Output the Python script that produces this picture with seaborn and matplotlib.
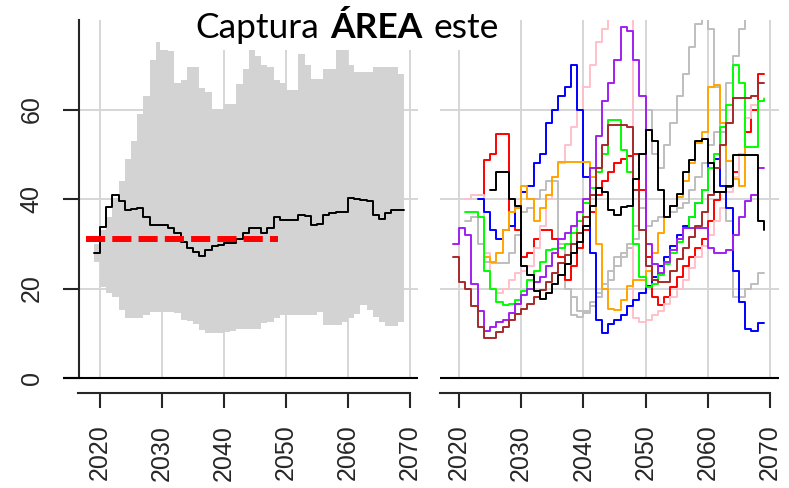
import numpy as np
import pandas as pd
import matplotlib
matplotlib.use("Agg")
import matplotlib.pyplot as plt
import seaborn as sns
from matplotlib.patches import Rectangle
from matplotlib.offsetbox import TextArea, HPacker, AnchoredOffsetbox

# ---------------- data ----------------
band_years = list(range(2019, 2070))
band_low = [26, 20.4, 18.9, 18, 15.2, 13.3, 13.3, 13.3, 14, 14.8,
            14.8, 14.8, 14.8, 14.5, 13, 12.8, 12, 10.8, 10.1, 10.1,
            10.1, 10.2, 10.5, 10.9, 11, 11, 11, 12.2, 12.6, 13.5,
            14, 14, 14, 14, 14, 14, 14.8, 11.8, 11.8, 11.8,
            12.5, 13.5, 14.4, 16.3, 15.2, 13.7, 12.6, 11.6, 11.7, 12.6,
            12.6]
band_high = [30, 33, 36, 40, 44, 49, 53, 59, 63, 71,
             75, 77, 73, 66, 66.5, 69.5, 69.5, 64.7, 64, 60.2,
             60.2, 61.2, 61.2, 65.8, 69, 76, 72, 70, 69.5, 66.5,
             66, 64.3, 64.3, 72.5, 70, 66.9, 66.9, 69.1, 69.1, 76,
             76, 70, 68.4, 68.4, 68.4, 69.5, 69.5, 69.5, 69.5, 68,
             67.6]
median = [28, 33.8, 38.2, 41, 39.5, 37.6, 37.8, 38.1, 36, 34.2,
          34.2, 34.2, 33.5, 32.3, 30.5, 29, 28.2, 27.2, 28.5, 29.6,
          29.8, 30.2, 30.2, 31, 32.5, 33.6, 33.6, 32.4, 33.5, 35.9,
          35.4, 35.3, 35.4, 36.4, 36.2, 34.2, 34.5, 36.4, 36.8, 37,
          37.1, 40.3, 40, 39.8, 39.6, 36.5, 35.6, 36.8, 37.6, 37.5,
          37.5]
ref_level = 31
ref_start, ref_end = 2017.7, 2048.7

# right panel: first year + yearly values of each trajectory
gray1_start = 2021
gray1 = [35, 36, 30, 26, 25.6, 25.6, 25.6, 28, 32, 37,
         38, 40, 42, 44, 44, 30, 20, 14, 13.7, 15,
         17, 19, 21, 24, 27, 28, 30, 34, 38, 60,
         50, 47, 52, 57, 63, 68, 74, 79, 85, 78,
         65, 55, 35, 18, 18, 20, 21, 23.4, 23.4]
gray2_start = 2038
gray2 = [18, 15, 14.5, 16, 18, 20, 22, 25, 27, 29,
         31, 33, 34, 35, 36, 36, 37, 38, 39, 42,
         45, 48, 52, 55, 60, 66, 72, 78, 85]
red_start = 2023
red = [41, 48.7, 50, 54.5, 54.5, 34, 33, 27, 28, 31,
       33, 33, 31, 27, 22, 25, 29, 33, 37, 41,
       44, 46, 48, 49, 49.5, 50, 42, 27, 18, 16.3,
       18, 20.4, 22.5, 25, 27, 29, 31, 35, 39.7, 41.5,
       42.7, 46, 50, 55, 60, 68, 68]
pink_start = 2021
pink = [40, 41, 41, 28, 20, 19, 20, 22, 23.5, 24,
        25, 29, 34, 40, 45, 48, 52, 56, 60, 65,
        70, 75, 78, 85, 90, 90, 85, 13.5, 12.5, 13,
        14, 15, 16.5, 18, 20, 22, 24.5, 27, 29.5, 32,
        35, 38, 41.5, 45, 50, 58, 61, 62, 62.5]
blue_start = 2023
blue = [40, 37, 33, 31, 33, 34, 38, 41.5, 43, 48,
        50, 57, 60, 63, 65, 70, 60, 45, 28, 13,
        10, 12, 13, 14, 16, 17.5, 19, 20.5, 22.5, 25,
        27, 29.5, 32, 34, 36, 39, 42, 48, 49, 43,
        38, 24, 17, 11, 10.5, 12.2, 12.2]
orange_start = 2024
orange = [27, 26, 28, 33, 37, 38, 43, 40, 35, 38,
          41, 45, 48.3, 48.3, 48.3, 48.3, 48.3, 45, 30, 20,
          15.5, 15.2, 17.5, 20.5, 22, 22, 24, 28, 32.5, 36,
          38.5, 40.5, 44, 48, 52.5, 55, 65, 65.5, 57, 48.5,
          44.5, 43, 52]
green_start = 2021
green = [37, 37, 36, 24, 20, 17, 16.3, 16.5, 17.5, 19.5,
         22, 24, 26, 28.6, 28.8, 29, 30, 32.5, 35, 39,
         42.5, 46, 50, 57.6, 57.6, 51, 46, 30, 22.5, 20.4,
         21, 23, 25.5, 28, 30.5, 33.5, 36, 39, 42, 47,
         50, 56, 61, 70, 66, 51.6, 51.6, 62, 62.4]
purple_start = 2019
purple = [30, 33.5, 32, 21, 15, 10.5, 11.5, 12.5, 13, 14.5,
          16.5, 18.5, 20, 21.5, 22.6, 25, 28, 31, 32.3, 34,
          37, 40, 47, 54, 62, 66, 71, 78.5, 77.5, 71,
          63, 30, 25.5, 23.5, 26, 28.5, 31, 33.5, 33.5, 33.5,
          33.5, 29, 28, 28, 28.5, 32, 36, 39.5, 41, 47,
          47]
brown_start = 2019
brown = [27, 21.5, 20, 16, 11.5, 9, 9, 10.3, 11.5, 13,
         14.4, 15.5, 16.5, 18.2, 19.6, 21.5, 23.4, 25.6, 27.5, 30,
         32.5, 36, 41, 47, 52, 56.5, 56.5, 56.5, 56, 42,
         33, 25, 22, 21.5, 21.5, 24, 26.5, 29, 31.5, 34,
         37, 41, 47, 52, 57, 62.5, 62.5, 62.5, 63, 66,
         66]
black_start = 2025
black = [42, 46, 46, 40, 38.5, 25, 23, 19.5, 17.6, 19,
         21, 23, 25.5, 28, 30.5, 34, 38.5, 42.5, 41.5, 37.5,
         36.4, 38.2, 38.5, 44.5, 50, 55.4, 53, 42, 36, 38.5,
         41.2, 46, 48.7, 53, 53.5, 48, 41.6, 41.6, 43, 49.8,
         49.8, 49.8, 49.8, 35, 33]

series = {
    "gray1": (gray1_start, gray1),
    "gray2": (gray2_start, gray2),
    "red": (red_start, red),
    "pink": (pink_start, pink),
    "blue": (blue_start, blue),
    "orange": (orange_start, orange),
    "green": (green_start, green),
    "purple": (purple_start, purple),
    "brown": (brown_start, brown),
    "black": (black_start, black),
}
palette = {"gray1": "#bebebe", "gray2": "#bebebe", "red": "#ff0000",
           "pink": "#ffc0cb", "blue": "#0000ff", "orange": "#ffa500",
           "green": "#00ff00", "purple": "#a020f0", "brown": "#a52a2a",
           "black": "#000000"}

rows = []
for name, (start, vals) in series.items():
    for i, v in enumerate(vals):
        rows.append((name, start + i, v))
traj = pd.DataFrame(rows, columns=["serie", "year", "value"])

# ---------------- figure ----------------
sns.set_style("white")
plt.rcParams["font.family"] = ["Liberation Sans", "DejaVu Sans"]

W, H = 789, 488
fig = plt.figure(figsize=(W / 100, H / 100), dpi=100)

def px_axes(x0, x1, y0, y1):
    return fig.add_axes([x0 / W, 1 - y1 / H, (x1 - x0) / W, (y1 - y0) / H])

ax1 = px_axes(63, 418, 20, 393)
ax2 = px_axes(440, 779, 20, 393)

grid_c = "#d6d6d6"
xt = [2020, 2030, 2040, 2050, 2060, 2070]
yt = [0, 20, 40, 60]
ylim = (-3.35, 80)

ax1.set_xlim(2014.03, 2071.29)
ax2.set_xlim(2016.95, 2071.45)
y_axis_x = 2016.6

for ax in (ax1, ax2):
    ax.set_ylim(*ylim)
    ax.vlines(xt, 0, ylim[1], colors=grid_c, lw=1.4, zorder=0.5)
    ax.axhline(0, color="black", lw=1.5, zorder=4)
    for s in ("top", "right"):
        ax.spines[s].set_visible(False)
    ax.spines["bottom"].set_linewidth(1.5)
    ax.spines["bottom"].set_bounds(y_axis_x - 0.1 if ax is ax1 else ax.get_xlim()[0], 2070)
    ax.set_xticks(xt)
    ax.tick_params(axis="x", direction="out", length=10.8, width=1.5, pad=12,
                   labelsize=18, labelrotation=90, bottom=True)
    ax.set_xlabel("")
    ax.set_ylabel("")

ax1.hlines([20, 40, 60], y_axis_x, 2071.29, colors=grid_c, lw=1.4, zorder=0.5)
ax2.hlines([20, 40, 60], *ax2.get_xlim(), colors=grid_c, lw=1.4, zorder=0.5)

# left panel: band, median, reference level
ax1.fill_between(band_years, band_low, band_high, step="post",
                 color="#d3d3d3", lw=0, zorder=1)
sns.lineplot(x=band_years, y=median, ax=ax1, color="black", lw=1.4,
             drawstyle="steps-post", zorder=2)
ax1.hlines(ref_level, ref_start, ref_end, colors="red", lw=4.3,
           linestyles=(0, (3.2, 1.2)), zorder=3)

ax1.spines["left"].set_position(("data", y_axis_x))
ax1.spines["left"].set_bounds(0, 80)
ax1.spines["left"].set_linewidth(1.5)
ax1.set_yticks(yt)
ax1.tick_params(axis="y", direction="out", length=11.5, width=1.5, pad=14,
                labelsize=18, labelrotation=90, left=True)
for lab in ax1.get_yticklabels():
    lab.set_va("center")

# right panel: individual trajectories
sns.lineplot(data=traj, x="year", y="value", hue="serie",
             hue_order=list(series.keys()), palette=palette,
             estimator=None, drawstyle="steps-post", lw=1.4,
             legend=False, ax=ax2, zorder=2)
ax2.spines["left"].set_visible(False)
ax2.set_yticks(yt)
ax2.tick_params(axis="y", left=False, labelleft=False)
ax2.set_xlabel("")
ax2.set_ylabel("")

# title box on top
fig.add_artist(Rectangle((160 / W, 1 - 50 / H), (470 - 160) / W, 50 / H,
                         transform=fig.transFigure, facecolor="white",
                         edgecolor="none", zorder=5))
tp = dict(fontsize=25.5, family="Lato", color="black")
parts = [TextArea("Captura", textprops=tp),
         TextArea("ÁREA", textprops=dict(tp, weight="bold")),
         TextArea("este", textprops=tp)]
title = AnchoredOffsetbox(loc="center", child=HPacker(children=parts, align="baseline", pad=0, sep=8),
                          pad=0, borderpad=0, frameon=False,
                          bbox_to_anchor=(347.5 / W, 1 - 28 / H),
                          bbox_transform=fig.transFigure)
title.set_zorder(6)
fig.add_artist(title)

fig.savefig("out.png", dpi=100)
